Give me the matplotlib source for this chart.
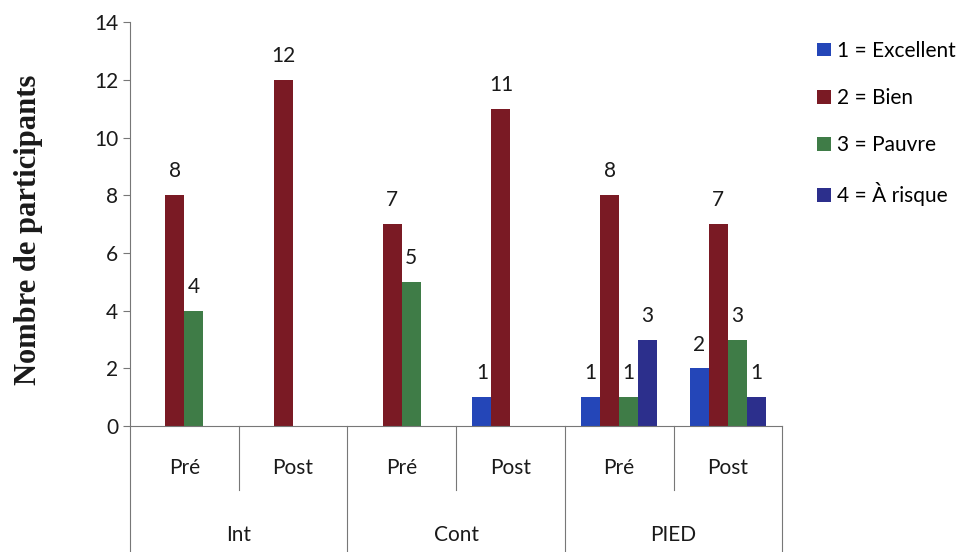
import matplotlib
matplotlib.use('Agg')
import matplotlib.pyplot as plt
import numpy as np
from matplotlib.transforms import blended_transform_factory

plt.rcParams['font.family'] = ['Lato', 'DejaVu Sans']

groups = ['Int', 'Cont', 'PIED']
phases = ['Pré', 'Post']
series = ['1 = Excellent', '2 = Bien', '3 = Pauvre', '4 = À risque']
colors = ['#2446b8', '#7a1a24', '#3f7c47', '#2c2f8c']

# one value per (group, phase): Int Pré, Int Post, Cont Pré, Cont Post, PIED Pré, PIED Post
excellent = [0, 0, 0, 1, 1, 2]
bien = [8, 12, 7, 11, 8, 7]
pauvre = [4, 0, 5, 0, 1, 3]
risque = [0, 0, 0, 0, 3, 1]
values = [excellent, bien, pauvre, risque]

fs = 15
fig = plt.figure(figsize=(9.75, 5.52), dpi=100)
ax = fig.add_axes([0.1333, 0.228, 0.669, 0.732])

n = len(groups) * len(phases)
x = np.arange(n)
width = 0.175
for k, (vals, lab, col) in enumerate(zip(values, series, colors)):
    pos = x + (k - 1.5) * width
    bars = ax.bar(pos, vals, width=width, color=col, label=lab, linewidth=0)
    for p, v in zip(pos, vals):
        if v > 0:
            ax.annotate(str(v), (p, v), xytext=(0, 10), textcoords='offset points',
                        ha='center', va='bottom', fontsize=fs, color='#1a1a1a')

ax.set_xlim(-0.5, n - 0.5)
ax.set_ylim(0, 14)
ax.set_yticks(range(0, 15, 2))
ax.tick_params(axis='y', labelsize=fs, length=5, width=0.8, color='#777777', labelcolor='#1a1a1a')
ax.set_xticks([])
for s in ['top', 'right']:
    ax.spines[s].set_visible(False)
ax.spines['left'].set_color('#777777')
ax.spines['bottom'].set_color('#777777')

ax.set_ylabel('Nombre de participants', family='Liberation Serif', fontweight='bold',
              fontsize=22, color='#1a1a1a')
ax.yaxis.set_label_coords(-0.133, 0.485)

# two-level category axis below the plot
tr = blended_transform_factory(ax.transData, ax.transAxes)
for i in range(n):
    ax.text(x[i], -0.104, phases[i % 2], transform=tr, ha='center', va='center',
            fontsize=fs, color='#1a1a1a')
for b in range(n + 1):
    bottom = -0.312 if b % 2 == 0 else -0.158
    ax.plot([b - 0.5, b - 0.5], [0, bottom], transform=tr, color='#777777',
            lw=0.8, clip_on=False)
for g, name in enumerate(groups):
    ax.text(2 * g + 0.5, -0.27, name, transform=tr, ha='center', va='center',
            fontsize=fs, color='#1a1a1a')

fig.legend(loc='upper left', bbox_to_anchor=(0.819, 0.96), frameon=False, fontsize=fs,
           handlelength=0.65, handleheight=0.65, handletextpad=0.3, labelspacing=1.3)

fig.savefig('out.png', dpi=100)
